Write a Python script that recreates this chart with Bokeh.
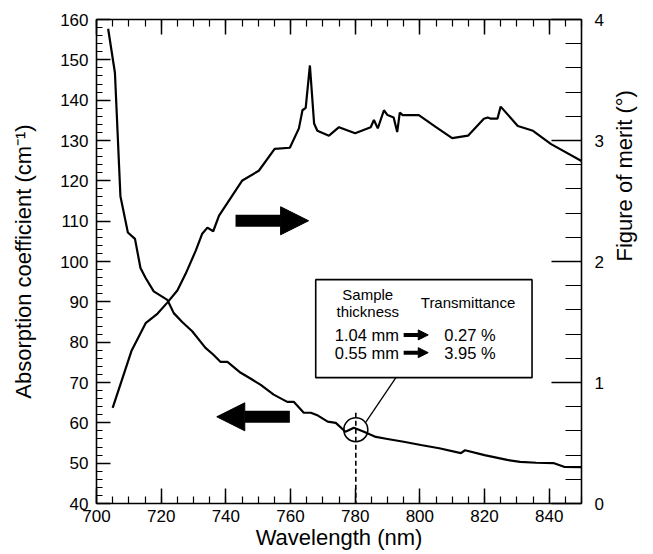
import math
from bokeh.plotting import figure
from bokeh.models import (Range1d, LinearAxis, SingleIntervalTicker, Arrow, NormalHead, Label,
                          CustomJSTickFormatter)
from bokeh.embed import file_html
from bokeh.resources import INLINE

# ---- data ----
abs_wl = [703.6, 705.7, 707.4, 709.7, 711.9, 713.6, 715.2, 717.7, 721.9, 723.9, 726.5,
          729.6, 733.7, 736.0, 738.4, 740.5, 744.6, 748.0, 750.8, 754.8, 759.0, 761.0,
          764.1, 766.3, 768.5, 771.5, 774.0, 777.0, 779.6, 782.7, 786.4, 790.0, 795.0,
          800.3, 806.0, 812.7, 814.0, 820.0, 827.0, 831.0, 836.0, 841.5, 844.6, 850.0]
abs_val = [157.7, 146.8, 116.2, 107.2, 105.6, 98.4, 95.9, 92.6, 90.5, 87.2, 85.0,
           82.7, 78.6, 77.0, 75.1, 75.1, 72.4, 70.8, 69.4, 67.0, 65.2, 65.2,
           62.5, 62.5, 61.8, 60.3, 60.0, 57.8, 58.8, 57.8, 56.5, 56.0, 55.3,
           54.5, 53.7, 52.5, 53.2, 52.0, 50.8, 50.3, 50.1, 50.0, 49.1, 49.0]

fom_wl = [705.0, 710.8, 715.2, 718.9, 721.9, 725.0, 727.6, 730.7, 732.7, 734.3, 736.1,
          737.9, 745.1, 750.2, 755.1, 759.8, 762.6, 763.7, 764.7, 766.0, 767.3, 768.3,
          771.9, 775.0, 780.0, 784.8, 785.8, 787.0, 788.9, 790.0, 791.9, 793.0, 793.8,
          794.7, 799.7, 805.0, 810.0, 814.9, 819.8, 821.0, 822.0, 824.0, 825.0, 830.3,
          835.0, 840.6, 850.0]
fom_val = [0.79, 1.26, 1.49, 1.57, 1.66, 1.76, 1.90, 2.09, 2.23, 2.28, 2.25,
           2.38, 2.67, 2.75, 2.93, 2.94, 3.10, 3.25, 3.27, 3.62, 3.14, 3.08,
           3.04, 3.11, 3.06, 3.11, 3.17, 3.10, 3.25, 3.21, 3.19, 3.07, 3.23,
           3.21, 3.21, 3.11, 3.02, 3.04, 3.18, 3.19, 3.18, 3.18, 3.28, 3.12,
           3.08, 2.97, 2.83]

x_ticks_interval = 20
left_ticks_interval = 10
right_ticks_interval = 1

FONT = "Liberation Sans"

p = figure(width=653, height=552, output_backend="svg", toolbar_location=None,
           x_range=Range1d(700, 850), y_range=Range1d(40, 160),
           x_axis_location=None, y_axis_location=None,
           min_border_left=96, min_border_right=72, min_border_top=19, min_border_bottom=49)
p.extra_y_ranges = {"fom": Range1d(0, 4)}
p.grid.visible = False
p.outline_line_color = None
p.background_fill_color = None
p.border_fill_color = None


def style(ax, major_in, minor_in):
    ax.level = "overlay"
    ax.major_tick_in = major_in
    ax.major_tick_out = 0
    ax.minor_tick_in = minor_in
    ax.minor_tick_out = 0
    ax.axis_line_width = 1.6
    ax.axis_line_color = "black"
    ax.major_tick_line_width = 1.5
    ax.major_tick_line_color = "black"
    ax.minor_tick_line_width = 1.2
    ax.minor_tick_line_color = "black"
    ax.major_label_text_font = FONT
    ax.major_label_text_font_size = "17px"
    ax.major_label_text_color = "black"
    ax.axis_label_text_font = FONT
    ax.axis_label_text_font_size = "22px"
    ax.axis_label_text_font_style = "normal"
    ax.axis_label_text_color = "black"


bottom = LinearAxis(ticker=SingleIntervalTicker(interval=x_ticks_interval, num_minor_ticks=4),
                    axis_label="Wavelength (nm)")
style(bottom, 15, 7)
bottom.major_label_standoff = 6
bottom.axis_label_standoff = 0
p.add_layout(bottom, "below")

top = LinearAxis(ticker=SingleIntervalTicker(interval=x_ticks_interval, num_minor_ticks=4),
                 formatter=CustomJSTickFormatter(code="return ''"))
style(top, 15, 7)
top.major_label_text_font_size = "8px"
top.major_label_standoff = 0
p.add_layout(top, "above")

left = LinearAxis(ticker=SingleIntervalTicker(interval=left_ticks_interval, num_minor_ticks=5),
                  axis_label="Absorption coefficient (cm\u207b\u00b9)")
style(left, 14, 6)
left.major_label_standoff = 8
left.axis_label_standoff = 21
p.add_layout(left, "left")

right = LinearAxis(y_range_name="fom",
                   ticker=SingleIntervalTicker(interval=right_ticks_interval, num_minor_ticks=5),
                   axis_label="Figure of merit (\u00b0)")
style(right, 30, 16)
right.major_label_standoff = 13
right.axis_label_standoff = 18
try:
    right.axis_label_orientation = math.pi / 2
except Exception:
    pass
p.add_layout(right, "right")

# curves
p.line(abs_wl, abs_val, line_width=2.2, line_color="black")
p.line(fom_wl, fom_val, y_range_name="fom", line_width=2.2, line_color="black")

# big arrows
p.add_layout(Arrow(end=NormalHead(size=28, fill_color="black", line_color="black"),
                   x_start=743.0, y_start=110.1, x_end=765.6, y_end=110.1,
                   line_width=12, line_color="black"))
p.add_layout(Arrow(end=NormalHead(size=28, fill_color="black", line_color="black"),
                   x_start=759.8, y_start=61.5, x_end=737.2, y_end=61.5,
                   line_width=12, line_color="black"))

# marker circle, dashed line and leader
p.line([780.2, 780.2], [62.5, 40], line_dash="5 3", line_width=1.6, line_color="black")
p.scatter([780.2], [58.3], size=24, marker="circle", fill_color=None,
          line_color="black", line_width=1.6)
p.line([783.3, 792.6], [60.2, 71.2], line_width=1.3, line_color="black")

# annotation box
p.quad(left=767.8, right=834.7, bottom=71.2, top=95.5, fill_color="white",
       line_color="black", line_width=1.6)


def lab(x, y, t, size="15px"):
    p.add_layout(Label(x=x, y=y, text=t, text_font=FONT, text_font_size=size,
                       text_align="center", text_baseline="middle", text_color="black"))


lab(783.9, 91.8, "Sample")
lab(783.9, 87.6, "thickness")
lab(814.9, 89.8, "Transmittance")
lab(783.6, 81.8, "1.04 mm", "16.5px")
lab(783.6, 77.4, "0.55 mm", "16.5px")
lab(815.5, 81.8, "0.27 %", "16.5px")
lab(815.5, 77.4, "3.95 %", "16.5px")

for yy in (81.8, 77.4):
    p.add_layout(Arrow(end=NormalHead(size=10, fill_color="black", line_color="black"),
                       x_start=795.0, y_start=yy, x_end=802.6, y_end=yy,
                       line_width=4, line_color="black"))

open("out.html", "w").write(file_html(p, INLINE))
